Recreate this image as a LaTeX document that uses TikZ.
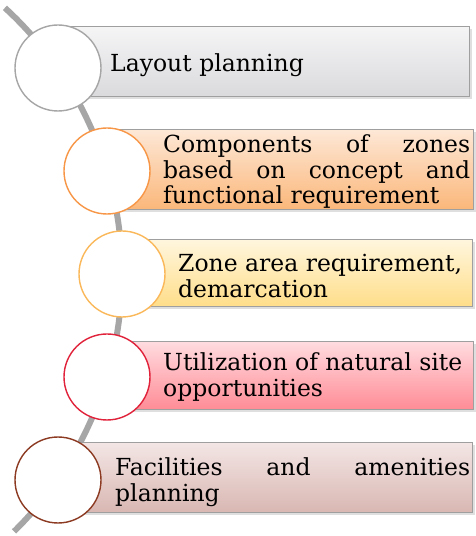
\documentclass[tikz,border=0pt]{standalone}
\usepackage{fontspec}
\setmainfont{DejaVu Serif}
\usetikzlibrary{shadows}
\definecolor{arcgray}{HTML}{A6A6A6}
\definecolor{cA}{HTML}{A6A6A6}
\definecolor{cB}{HTML}{F79646}
\definecolor{cC}{HTML}{FAB85A}
\definecolor{cD}{HTML}{E0223A}
\definecolor{cE}{HTML}{8C3A22}
\tikzset{
  bar/.style={draw=gray!75, line width=1.3pt, inner sep=0pt, anchor=south west,
    drop shadow={opacity=0.25, shadow xshift=2pt, shadow yshift=-2.5pt}},
  ring/.style={circle, fill=white, line width=1.4pt, minimum size=86pt, inner sep=0pt},
  lbl/.style={font=\fontsize{23.5}{25.5}\selectfont, inner sep=0pt, anchor=west, text=black}
}
\begin{document}
\begin{tikzpicture}[x=1pt,y=1pt]
\useasboundingbox (0,0) rectangle (475,536);
% arc
\coordinate (arcstart) at ({-239+361*cos(47.5)},{262+361*sin(47.5)});
\draw[arcgray, line width=6pt] (arcstart) arc[start angle=47.5, end angle=-45.5, radius=361];
% boxes
\node[bar, top color={rgb,255:red,245;green,245;blue,246}, bottom color={rgb,255:red,218;green,218;blue,221},
  minimum width=411pt, minimum height=70pt] (b1) at (58,439) {};
\node[bar, top color={rgb,255:red,253;green,232;blue,215}, bottom color={rgb,255:red,251;green,183;blue,122},
  minimum width=366pt, minimum height=80pt] (b2) at (107,326) {};
\node[bar, top color={rgb,255:red,255;green,246;blue,222}, bottom color={rgb,255:red,255;green,222;blue,138},
  minimum width=350pt, minimum height=67pt] (b3) at (122,229) {};
\node[bar, top color={rgb,255:red,255;green,220;blue,224}, bottom color={rgb,255:red,255;green,140;blue,150},
  minimum width=366pt, minimum height=68pt] (b4) at (107,126) {};
\node[bar, top color={rgb,255:red,243;green,230;blue,229}, bottom color={rgb,255:red,217;green,183;blue,178},
  minimum width=414pt, minimum height=70pt] (b5) at (58,23) {};
% circles
\node[ring, draw=cA] (c1) at (58,468) {};
\node[ring, draw=cB] (c2) at (107,365) {};
\node[ring, draw=cC] (c3) at (122,262) {};
\node[ring, draw=cD] (c4) at (107,159) {};
\node[ring, draw=cE] (c5) at (58,56) {};
% texts
\node[lbl] (t1) at (110,471) {Layout planning};
\node[lbl, text width=307pt, align=justify] (t2) at (163,364)
  {Components of zones\linebreak based on concept and\linebreak functional requirement};
\node[lbl, align=left] (t3) at (178,260) {Zone area requirement,\\demarcation};
\node[lbl, align=left] (t4) at (163,159) {Utilization of natural site\\opportunities};
\node[lbl, text width=355pt, align=justify] (t5) at (115,54)
  {Facilities and amenities\linebreak planning};
\end{tikzpicture}
\end{document}
